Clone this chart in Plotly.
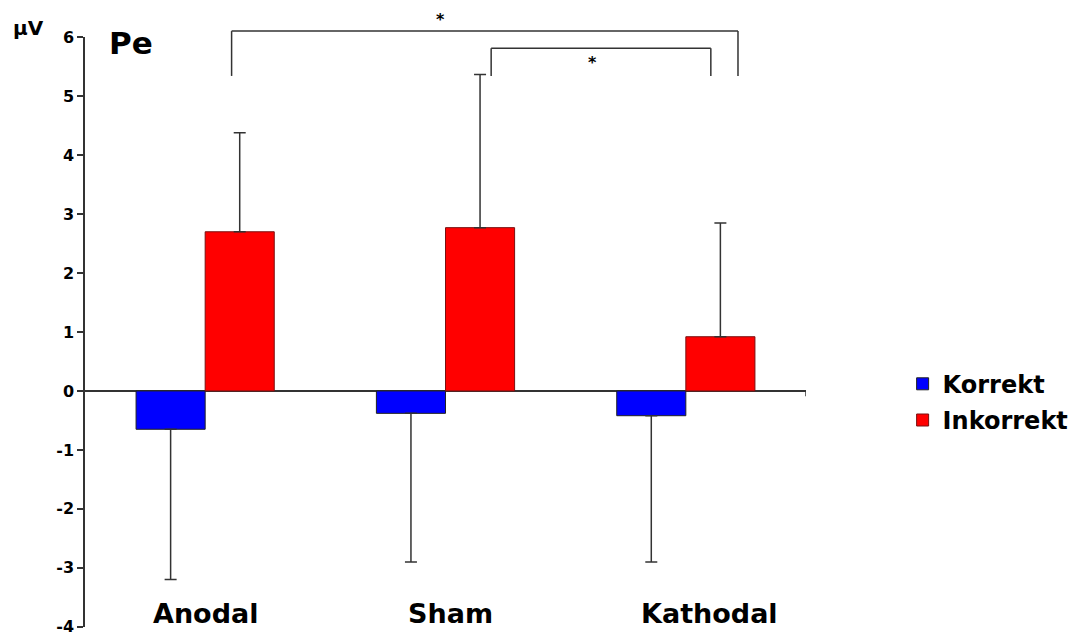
import plotly.graph_objects as go

# Pe amplitude (µV) per stimulation condition
conditions = ["Anodal", "Sham", "Kathodal"]
korrekt_mean = [-0.65, -0.38, -0.42]
korrekt_sd = [2.55, 2.52, 2.48]
inkorrekt_mean = [2.70, 2.77, 0.92]
inkorrekt_sd = [1.68, 2.60, 1.93]
y_ticks = [-4, -3, -2, -1, 0, 1, 2, 3, 4, 5, 6]
y_ticktext = ["-4", "-3", "-2", "-1", "0", "1", "2", "3", "4", "5", "6"]
label_x = [0.0, 1.02, 2.1]

FONT = "DejaVu Sans, Liberation Sans, sans-serif"
INK = "#333333"
xpos = list(range(len(conditions)))

fig = go.Figure()
fig.add_trace(go.Bar(
    x=xpos, y=korrekt_mean, name="Korrekt", legendgroup="k",
    marker=dict(color="#0000ff", line=dict(color="#222222", width=1)),
    error_y=dict(type="data", symmetric=False,
                 array=[0] * len(korrekt_sd), arrayminus=korrekt_sd,
                 color=INK, thickness=1.5, width=6),
))
fig.add_trace(go.Bar(
    x=xpos, y=inkorrekt_mean, name="Inkorrekt", legendgroup="i",
    marker=dict(color="#ff0000", line=dict(color="#7a1010", width=1)),
    error_y=dict(type="data", symmetric=False,
                 array=inkorrekt_sd, arrayminus=[0] * len(inkorrekt_sd),
                 color=INK, thickness=1.5, width=6),
))

# significance brackets (paper y so they can rise above the plot area)
Y0, Y1 = -4.0, 6.0


def py(v):
    return (v - Y0) / (Y1 - Y0)


def bracket(x0, x1, top, bottom):
    for xa, xb, ya, yb in [(x0, x0, bottom, top), (x0, x1, top, top), (x1, x1, top, bottom)]:
        fig.add_shape(type="line", xref="x", yref="paper",
                      x0=xa, x1=xb, y0=py(ya), y1=py(yb),
                      line=dict(color=INK, width=1.5))


bracket(0.11, 2.217, 6.1, 5.34)
bracket(1.19, 2.104, 5.81, 5.34)
for sx, sy in [(0.98, 6.3), (1.61, 5.56)]:
    fig.add_annotation(x=sx, xref="x", yref="paper", y=py(sy), text="*",
                       showarrow=False, yanchor="middle",
                       font=dict(family=FONT, size=16, color="black", weight="bold"))

# small tick closing the category axis
fig.add_shape(type="line", xref="x", yref="y", x0=2.5, x1=2.5, y0=0, y1=-0.09,
              line=dict(color=INK, width=1.5))

for lx, name in zip(label_x, conditions):
    fig.add_annotation(x=lx, y=-3.78, text=name, showarrow=False,
                       font=dict(family=FONT, size=27, color="black", weight="bold"))

fig.add_annotation(xref="paper", yref="paper", x=-0.079, y=1.015, text="µV",
                   showarrow=False, xanchor="center", yanchor="middle",
                   font=dict(family=FONT, size=20, color="black", weight="bold"))
fig.add_annotation(xref="paper", yref="paper", x=0.03, y=0.99, text="Pe",
                   showarrow=False, xanchor="left", yanchor="middle",
                   font=dict(family=FONT, size=31, color="black", weight="bold"))

fig.update_layout(
    width=1072, height=639,
    margin=dict(l=85, r=266, t=37, b=12, autoexpand=False),
    paper_bgcolor="white", plot_bgcolor="white",
    barmode="group", bargap=0.425, bargroupgap=0,
    showlegend=True,
    legend=dict(x=1.134, y=0.381, xanchor="left", yanchor="middle",
                traceorder="grouped", tracegroupgap=2,
                font=dict(family=FONT, size=24, color="black", weight="bold"),
                itemwidth=30),
    xaxis=dict(range=[-0.5, 2.5], showticklabels=False, showgrid=False,
               zeroline=False, showline=False, ticks="", automargin=False),
    yaxis=dict(range=[Y0 - 0.004, Y1 + 0.004], tickvals=y_ticks, ticktext=y_ticktext,
               showgrid=False, automargin=False,
               zeroline=True, zerolinecolor=INK, zerolinewidth=1.5,
               showline=True, linecolor=INK, linewidth=1.5,
               ticks="outside", ticklen=6, tickcolor=INK, tickwidth=1.5,
               tickfont=dict(family=FONT, size=16, color="black", weight="bold")),
)

fig.write_html("out.html")
